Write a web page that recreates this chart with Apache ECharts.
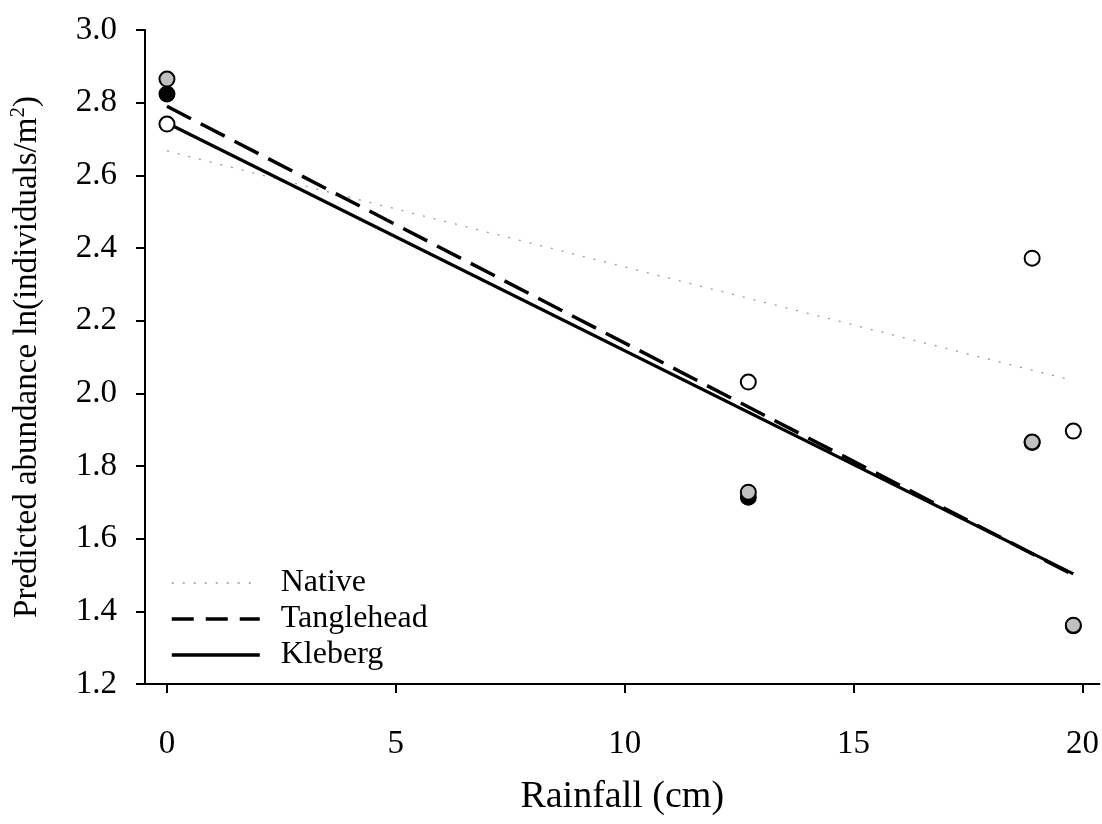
<!DOCTYPE html>
<html>
<head>
<meta charset="utf-8">
<script src="https://cdn.jsdelivr.net/npm/echarts@6/dist/echarts.min.js"></script>
<style>html,body{margin:0;padding:0;background:#fff;}#c{width:1102px;height:824px;}</style>
</head>
<body>
<div id="c"></div>
<script>
// ---- data ----
const xTicks = [0, 5, 10, 15, 20];
const yTicks = [1.2, 1.4, 1.6, 1.8, 2.0, 2.2, 2.4, 2.6, 2.8, 3.0];
const lineNames = ['Native', 'Tanglehead', 'Kleberg'];
const nativeLine = [[0, 2.667], [19.8, 2.035]];
const tangleheadLine = [[0, 2.79], [19.8, 1.50]];
const klebergLine = [[0, 2.744], [19.8, 1.503]];
const blackPoints = [[0, 2.824], [12.7, 1.714], [18.9, 1.865], [19.8, 1.36]];
const grayPoints = [[0, 2.865], [12.7, 1.728], [18.9, 1.866], [19.8, 1.362]];
const whitePoints = [[0, 2.741], [12.7, 2.031], [18.9, 2.372], [19.8, 1.896]];

const FONT = "'Liberation Serif', 'Times New Roman', serif";
const chart = echarts.init(document.getElementById('c'), null, {renderer: 'canvas'});

function pointSeries(data, fill) {
  return {
    type: 'scatter', data: data, symbol: 'circle', symbolSize: 15,
    itemStyle: {color: fill, borderColor: '#000', borderWidth: 2, opacity: 1},
    z: 5, silent: true
  };
}

chart.setOption({
  animation: false,
  backgroundColor: '#fff',
  grid: {left: 145, right: 2, top: 30, bottom: 140, containLabel: false},
  legend: {
    left: 165, top: 562, orient: 'vertical',
    data: [
      {name: lineNames[0], lineStyle: {width: 1.5, color: '#9a9a9a', type: [2, 9]}},
      {name: lineNames[1], lineStyle: {width: 3.5, color: '#000', type: [22, 12]}},
      {name: lineNames[2], lineStyle: {width: 3.5, color: '#000'}}
    ],
    itemWidth: 88, itemHeight: 14, itemGap: 4,
    itemStyle: {color: 'transparent', borderColor: 'transparent', borderWidth: 0},
    textStyle: {fontFamily: FONT, fontSize: 32, color: '#000', padding: [0, 0, 0, 16]}
  },
  xAxis: {
    type: 'value', min: -0.48, max: 20.37,
    name: 'Rainfall (cm)', nameLocation: 'middle', nameGap: 94,
    nameTextStyle: {fontFamily: FONT, fontSize: 38, color: '#000'},
    axisLine: {show: true, onZero: false, lineStyle: {color: '#000', width: 2}},
    axisTick: {show: true, length: 9, customValues: xTicks, lineStyle: {color: '#000', width: 2}},
    axisLabel: {customValues: xTicks, margin: 44, fontFamily: FONT, fontSize: 33, color: '#000'},
    splitLine: {show: false}
  },
  yAxis: {
    type: 'value', min: 1.2, max: 3.0,
    name: '{a|Predicted abundance ln(individuals/m}{s|2}{a|)}',
    nameLocation: 'middle', nameGap: 98,
    nameTextStyle: {
      fontFamily: FONT, fontSize: 33, color: '#000',
      rich: {
        a: {fontFamily: FONT, fontSize: 33, color: '#000'},
        s: {fontFamily: FONT, fontSize: 21, color: '#000', verticalAlign: 'top', padding: [0, 0, 18, 0]}
      }
    },
    axisLine: {show: true, onZero: false, lineStyle: {color: '#000', width: 2}},
    axisTick: {show: true, length: 9, customValues: yTicks, lineStyle: {color: '#000', width: 2}},
    axisLabel: {customValues: yTicks, margin: 28, fontFamily: FONT, fontSize: 33, color: '#000',
      formatter: v => Number(v).toFixed(1)},
    splitLine: {show: false}
  },
  series: [
    {name: 'Native', type: 'line', data: nativeLine, symbol: 'none',
      itemStyle: {color: '#9a9a9a'},
      lineStyle: {color: '#9a9a9a', width: 1.3, type: [2, 9]}, z: 2},
    {name: 'Tanglehead', type: 'line', data: tangleheadLine, symbol: 'none',
      itemStyle: {color: '#000'},
      lineStyle: {color: '#000', width: 3.5, type: [27, 11]}, z: 3},
    {name: 'Kleberg', type: 'line', data: klebergLine, symbol: 'none',
      itemStyle: {color: '#000'},
      lineStyle: {color: '#000', width: 3.2}, z: 3},
    pointSeries(blackPoints, '#000'),
    pointSeries(grayPoints, '#c0c0c0'),
    pointSeries(whitePoints, '#fff')
  ]
});
</script>
</body>
</html>
